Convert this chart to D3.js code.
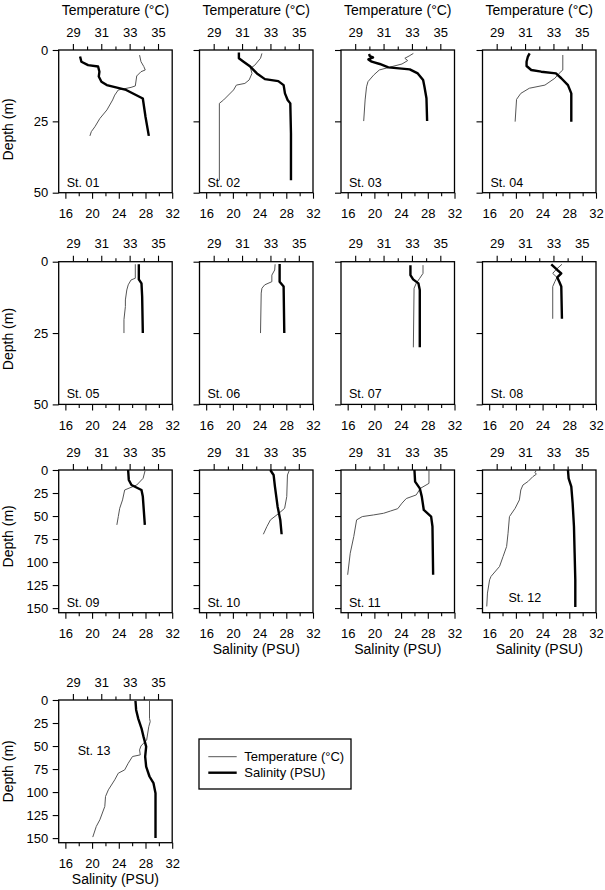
<!DOCTYPE html>
<html>
<head>
<meta charset="utf-8">
<script src="https://cdn.jsdelivr.net/npm/d3@7"></script>
<style>
  body { margin: 0; background: #fff; }
  text { font-family: "Liberation Sans", Arial, sans-serif; fill: #000; }
</style>
</head>
<body>
<svg id="chart" width="605" height="890"></svg>
<script>
// station names and tick values
const stations = ["St. 01", "St. 02", "St. 03", "St. 04", "St. 05", "St. 06", "St. 07",
  "St. 08", "St. 09", "St. 10", "St. 11", "St. 12", "St. 13"];
const tempTicks = [29, 31, 33, 35], tempMinor = [30, 32, 34];
const salTicks = [16, 20, 24, 28, 32], salMinor = [18, 22, 26, 30];
const depthTicksShallow = [0, 25, 50];
const depthTicksDeep = [0, 25, 50, 75, 100, 125, 150];

// profiles: [depth (m), value]
const t01 = [[1.8,33.7],[4.1,33.8],[5.8,34.0],[7,34.1],[7.6,33.8],[9.1,33.5],[12.6,33.4],[13.1,33.1],[14,32.2],[15.8,31.95],[17.5,31.8],[21,31.4],[24,30.9],[26.9,30.55],[28.6,30.3],[30.1,30.2]];
const s01 = [[2.3,18.2],[4.1,18.4],[5.3,19.4],[5.8,20.9],[7.6,21.1],[9.3,21.0],[11.1,21.4],[12.3,22.2],[14,25.1],[17,27.6],[23.4,28.0],[30.1,28.5]];
const t02 = [[1.2,32.4],[2.9,32.3],[5.3,31.9],[6.4,31.6],[8.2,31.7],[10.5,31.5],[11.7,31.2],[12.3,30.6],[14,30.4],[17.5,29.7],[18.7,29.4],[45.6,29.4]];
const s02 = [[0.9,20.9],[2.9,20.9],[4.1,21.6],[5.8,22.6],[8.2,23.6],[10.2,24.8],[10.9,26.8],[12.3,27.6],[15.2,27.8],[17.5,28.2],[18.7,28.6],[29.2,28.7],[45.6,28.7]];
const t03 = [[1.2,33.1],[2.1,32.8],[2.9,32.5],[3.7,32.7],[4.9,32.3],[5.8,31.6],[7,30.7],[8.8,30.3],[11.1,29.9],[12.9,29.8],[17.5,29.7],[24.9,29.6]];
const s03 = [[1.4,19.2],[2.1,19.3],[2.6,19.8],[3.3,19.1],[4.1,19.6],[4.9,20.8],[6.1,22.1],[6.8,25.3],[8.2,26.5],[10.5,27.3],[12.9,27.5],[16.9,27.8],[24.9,27.9]];
const t04 = [[1.75,33.66],[7,33.66],[8.2,33.4],[9.9,33.1],[12.3,32.4],[13.4,31.3],[15.2,30.7],[17.3,30.4],[25.1,30.3]];
const s04 = [[1.2,22.06],[2.3,21.8],[4.1,21.6],[5.6,21.6],[7,22.3],[7.6,23.8],[8.2,26.0],[9.9,26.8],[12.3,27.8],[15.2,28.3],[25.1,28.3]];
const t05 = [[0.9,33.4],[5.8,33.4],[6.4,33.1],[8.1,32.9],[9.9,32.8],[13.4,32.7],[15.7,32.7],[20.3,32.6],[25,32.6]];
const s05 = [[0.9,27.0],[6.2,27.0],[7.6,27.4],[12.2,27.5],[25,27.6]];
const t06 = [[0.9,33.33],[2.9,33.3],[4.7,33.1],[7,33.1],[8.1,32.6],[9.3,32.4],[11,32.35],[25,32.3]];
const s06 = [[0.8,27.0],[7,27.0],[8.7,27.6],[25,27.7]];
const t07 = [[1.2,33.78],[4.1,33.78],[5.8,33.55],[7.6,33.3],[9.3,33.15],[30,33.1]];
const s07 = [[1.2,25.4],[4.7,25.4],[6.2,25.8],[7.6,26.6],[9.9,26.8],[30,26.8]];
const t08 = [[0.9,33.6],[2.7,33.2],[4.1,32.95],[5.5,33.25],[7,33.1],[8.7,32.95],[20,32.95]];
const s08 = [[0.9,25.3],[2.9,26.2],[4.1,26.8],[5.5,26.2],[7,26.5],[8.7,26.8],[20,26.9]];
const t09 = [[0,34.1],[9,33.95],[16.3,33.5],[21.7,32.65],[32.5,32.5],[41.6,32.3],[50.6,32.2],[59.6,32.1]];
const s09 = [[0,25.4],[10.8,25.5],[16.3,25.9],[21.7,27.4],[28.9,27.6],[59.6,27.9]];
const t10 = [[0,34.34],[5.4,34.2],[28.9,34.15],[41.6,34.0],[47,33.6],[54.2,33.0],[61.4,32.75],[69.8,32.5]];
const s10 = [[0,25.6],[5.4,26.1],[18,26.3],[39.8,26.7],[54.2,27.1],[69.8,27.3]];
const t11 = [[0,34.2],[14.5,34.2],[19.9,33.6],[27.1,33.3],[31,32.6],[36,32.3],[42,32.0],[44.5,31.5],[47,31.0],[48.8,30.3],[50.6,29.5],[54.2,29.1],[72.3,28.9],[90.4,28.65],[113.8,28.47]];
const s11 = [[0,26.0],[12.6,26.1],[19.9,26.8],[28.9,27.1],[43.4,27.4],[50.6,28.5],[61.4,28.7],[113.8,28.8]];
const t12 = [[0,31.8],[2.9,31.7],[4.5,31.8],[7.2,31.55],[12.6,31.2],[16.3,30.85],[21.7,30.7],[32.5,30.6],[41.6,30.3],[50.6,29.9],[68.7,29.8],[83.1,29.7],[94,29.45],[104.8,29.2],[115.6,28.6],[119.3,28.5],[133.7,28.35],[148.2,28.3]];
const s12 = [[0,27.8],[9,27.9],[18,28.3],[36.1,28.5],[61.4,28.7],[90.4,28.8],[119.3,28.9],[148.9,28.9]];
const t13 = [[1.1,34.4],[19.9,34.4],[23.5,34.45],[28.9,34.35],[43.4,34.2],[49.9,33.8],[54.2,33.7],[59.6,33.75],[61.4,33.2],[68.7,32.9],[75.9,32.65],[79.5,32.2],[86.7,31.95],[97.6,31.5],[104.8,31.3],[115.6,31.25],[130.1,30.9],[137.3,30.65],[148.9,30.4]];
const s13 = [[1.1,26.5],[10.8,26.6],[19.9,26.9],[30.7,27.4],[39.8,27.7],[50.6,28.1],[61.4,27.95],[72.3,28.1],[83.1,28.6],[90.4,29.2],[101.2,29.5],[150,29.5]];

const tempProfiles = [t01, t02, t03, t04, t05, t06, t07, t08, t09, t10, t11, t12, t13];
const salProfiles = [s01, s02, s03, s04, s05, s06, s07, s08, s09, s10, s11, s12, s13];

// layout
const W = 113.5, H = 142.7;
const colLeft = [58.7, 199.5, 341, 482.5];
const rowTop = [50, 261.7, 470, 700];
const rowDepthMax = [50, 50, 155, 155];
const depthLabelShift = [8, 6, -5, 0];
// station label offsets [dx from left, dy from bottom]
const labelPos = stations.map((s, i) => i === 11 ? [26, -11] : i === 12 ? [19, 55 - H] : [8, -6]);

const svg = d3.select("#chart");

const line = (x, y) => d3.line().x(d => x(d[1])).y(d => y(d[0]));

stations.forEach((name, i) => {
  const row = Math.floor(i / 4), col = i % 4;
  const g = svg.append("g")
    .attr("transform", "translate(" + colLeft[col] + "," + rowTop[row] + ")");

  const xS = d3.scaleLinear().domain([15, 32]).range([0, W]);
  const xT = d3.scaleLinear().domain([28, 36]).range([0, W]);
  const y = d3.scaleLinear().domain([0, rowDepthMax[row]]).range([0, H]);

  // top axis (temperature)
  g.append("g").attr("class", "ax")
    .call(d3.axisTop(xT).tickValues(tempTicks).tickSize(6).tickSizeOuter(0).tickPadding(7.5));
  g.append("g").attr("class", "ax")
    .call(d3.axisTop(xT).tickValues(tempMinor).tickSize(3.5).tickSizeOuter(0).tickFormat(""));

  // bottom axis (salinity)
  g.append("g").attr("class", "ax")
    .attr("transform", "translate(0," + H + ")")
    .call(d3.axisBottom(xS).tickValues(salTicks).tickSize(6).tickSizeOuter(0).tickPadding(10.5));
  g.append("g").attr("class", "ax")
    .attr("transform", "translate(0," + H + ")")
    .call(d3.axisBottom(xS).tickValues(salMinor).tickSize(3.5).tickSizeOuter(0).tickFormat(""));

  // left axis (depth)
  const yAxis = d3.axisLeft(y)
    .tickValues(row < 2 ? depthTicksShallow : depthTicksDeep)
    .tickSize(6).tickSizeOuter(0).tickPadding(4.5);
  if (col > 0) yAxis.tickFormat("");
  g.append("g").attr("class", "ax").call(yAxis);

  g.selectAll(".ax .domain").remove();
  g.selectAll(".ax line").attr("stroke", "#000").attr("stroke-width", 1.1);
  g.selectAll(".ax text").attr("font-size", 13).style("font-family", "'Liberation Sans', Arial, sans-serif");

  // frame
  g.append("rect")
    .attr("width", W).attr("height", H)
    .attr("fill", "none").attr("stroke", "#000").attr("stroke-width", 1.3);

  // profiles
  g.append("path")
    .datum(tempProfiles[i])
    .attr("d", line(xT, y))
    .attr("fill", "none").attr("stroke", "#555").attr("stroke-width", 1);
  g.append("path")
    .datum(salProfiles[i])
    .attr("d", line(xS, y))
    .attr("fill", "none").attr("stroke", "#000").attr("stroke-width", 2.4)
    .attr("stroke-linejoin", "round");

  // station label
  g.append("text")
    .attr("x", labelPos[i][0]).attr("y", H + labelPos[i][1])
    .attr("font-size", 12.5)
    .text(name);

  if (row === 0) {
    g.append("text")
      .attr("x", W / 2).attr("y", -35.5)
      .attr("text-anchor", "middle").attr("font-size", 14)
      .text("Temperature (°C)");
  }
  if (i >= 9) {
    g.append("text")
      .attr("x", W / 2).attr("y", H + 41.5)
      .attr("text-anchor", "middle").attr("font-size", 14)
      .text("Salinity (PSU)");
  }
  if (col === 0) {
    g.append("text")
      .attr("transform", "translate(" + (13 - colLeft[0]) + "," + (H / 2 + depthLabelShift[row]) + ") rotate(-90)")
      .attr("text-anchor", "middle").attr("font-size", 14)
      .text("Depth (m)");
  }
});

// legend
const legend = svg.append("g").attr("transform", "translate(199,739)");
legend.append("rect")
  .attr("width", 152).attr("height", 50)
  .attr("fill", "none").attr("stroke", "#000").attr("stroke-width", 1.3);
const legendItems = [
  { label: "Temperature (°C)", color: "#555", width: 1 },
  { label: "Salinity (PSU)", color: "#000", width: 2.4 }
];
legendItems.forEach((d, k) => {
  const yy = 17.7 + k * 16;
  legend.append("line")
    .attr("x1", 9.3).attr("x2", 37.7).attr("y1", yy).attr("y2", yy)
    .attr("stroke", d.color).attr("stroke-width", d.width);
  legend.append("text")
    .attr("x", 45.3).attr("y", yy + 4.5)
    .attr("font-size", 13)
    .text(d.label);
});
</script>
</body>
</html>
